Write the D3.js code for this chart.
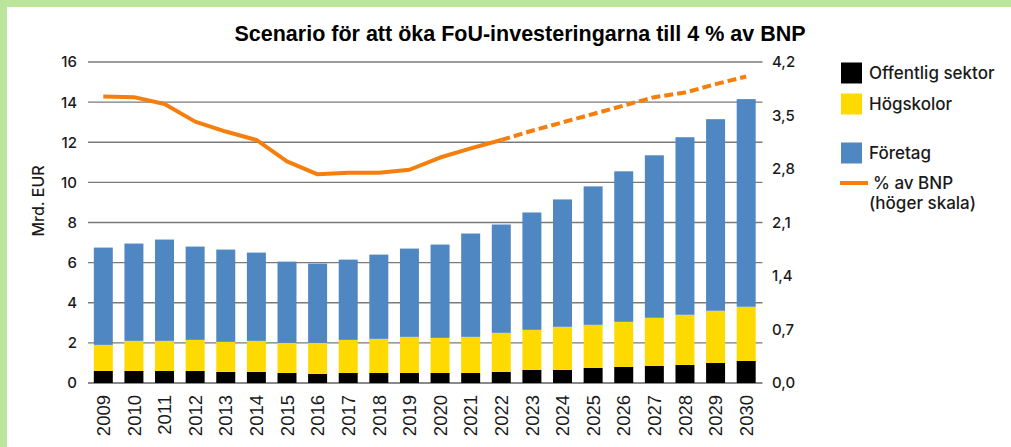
<!DOCTYPE html>
<html>
<head>
<meta charset="utf-8">
<script src="https://cdn.jsdelivr.net/npm/d3@7"></script>
<style>
  body { margin: 0; background: #fff; }
  text { font-family: Inter, "Noto Sans", sans-serif; font-weight: 500; fill: #1a1a1a; }
</style>
</head>
<body>
<svg id="chart" width="1011" height="447"></svg>
<script>
const WIDTH = 1011
const HEIGHT = 447

// values
const years = ['2009', '2010', '2011', '2012', '2013', '2014', '2015', '2016', '2017', '2018', '2019',
    '2020', '2021', '2022', '2023', '2024', '2025', '2026', '2027', '2028', '2029', '2030'];
const offentlig = [0.6, 0.6, 0.6, 0.6, 0.55, 0.55, 0.5, 0.45, 0.5, 0.5, 0.5,
    0.5, 0.5, 0.55, 0.65, 0.65, 0.75, 0.8, 0.85, 0.9, 1.0, 1.1];
const hogskolor = [1.3, 1.5, 1.5, 1.55, 1.5, 1.55, 1.5, 1.55, 1.65, 1.7, 1.8,
    1.75, 1.8, 1.95, 2.0, 2.15, 2.15, 2.25, 2.4, 2.5, 2.6, 2.7];
const foretag = [4.85, 4.85, 5.05, 4.65, 4.6, 4.4, 4.05, 3.95, 4.0, 4.2, 4.4,
    4.65, 5.15, 5.4, 5.85, 6.35, 6.9, 7.5, 8.1, 8.85, 9.55, 10.35];
const bnpShare = [3.75, 3.74, 3.65, 3.42, 3.29, 3.18, 2.90, 2.73, 2.75, 2.75, 2.79,
    2.95, 3.07, 3.18, 3.30, 3.41, 3.52, 3.63, 3.74, 3.80, 3.91, 4.01];
const leftTicks = [0, 2, 4, 6, 8, 10, 12, 14, 16];
const rightTicks = [0, 0.7, 1.4, 2.1, 2.8, 3.5, 4.2];
const lastActual = '2022';

const seriesKeys = ['Offentlig sektor', 'Högskolor', 'Företag'];
const colors = { 'Offentlig sektor': '#000000', 'Högskolor': '#FFDA00', 'Företag': '#4F87C2' };
const lineColor = '#F47F0C';

const svg = d3.select('#chart');

// green frame, top and left
svg.append('rect').attr('x', 0).attr('y', 0).attr('width', WIDTH).attr('height', 7).attr('fill', '#BBE59B');
svg.append('rect').attr('x', 0).attr('y', 0).attr('width', 7).attr('height', HEIGHT).attr('fill', '#BBE59B');

const padding = { left: 88, right: 761.5, top: 62, bottom: 383 };

const xScale = d3.scaleBand()
    .domain(years)
    .range([padding.left, padding.right])
    .paddingInner(0.38)
    .paddingOuter(0.19);

const yLeft = d3.scaleLinear().domain([0, 16]).range([padding.bottom, padding.top]);
const yRight = d3.scaleLinear().domain([0, 4.2]).range([padding.bottom, padding.top]);

// gridlines
svg.append('g')
    .selectAll('line')
    .data(leftTicks)
    .join('line')
    .attr('x1', padding.left)
    .attr('x2', padding.right + 1)
    .attr('y1', d => yLeft(d))
    .attr('y2', d => yLeft(d))
    .attr('stroke', d => d === 0 ? '#8a8a8a' : '#7a7a7a')
    .attr('stroke-width', d => d === 0 ? 2.2 : 1.4);

// left axis labels
svg.append('g')
    .selectAll('text')
    .data(leftTicks)
    .join('text')
    .attr('x', 77)
    .attr('y', d => yLeft(d))
    .attr('dy', '0.36em')
    .attr('text-anchor', 'end')
    .style('font-size', '15px')
    .text(d => d);

// right axis labels
svg.append('g')
    .selectAll('text')
    .data(rightTicks)
    .join('text')
    .attr('x', 772)
    .attr('y', d => yRight(d))
    .attr('dy', '0.36em')
    .style('font-size', '15px')
    .text(d => d3.format('.1f')(d).replace('.', ','));

// y axis title
svg.append('text')
    .attr('transform', 'translate(38, 201) rotate(-90)')
    .attr('text-anchor', 'middle')
    .attr('dy', '0.36em')
    .style('font-size', '16px')
    .text('Mrd. EUR');

// stacked bars
const rows = years.map((year, i) => ({
    year: year,
    'Offentlig sektor': offentlig[i],
    'Högskolor': hogskolor[i],
    'Företag': foretag[i]
}));
const stacked = d3.stack().keys(seriesKeys)(rows);

svg.append('g')
    .selectAll('g')
    .data(stacked)
    .join('g')
    .attr('fill', d => colors[d.key])
    .selectAll('rect')
    .data(d => d)
    .join('rect')
    .attr('x', d => xScale(d.data.year))
    .attr('width', xScale.bandwidth())
    .attr('y', d => yLeft(d[1]))
    .attr('height', d => yLeft(d[0]) - yLeft(d[1]));

// line, solid for history and dashed for the scenario
const points = years.map((year, i) => ({ year: year, value: bnpShare[i] }));
const cut = years.indexOf(lastActual);
const line = d3.line()
    .x(d => xScale(d.year) + xScale.bandwidth() / 2)
    .y(d => yRight(d.value));

svg.append('path')
    .attr('d', line(points.slice(0, cut + 1)))
    .attr('fill', 'none')
    .attr('stroke', lineColor)
    .attr('stroke-width', 4)
    .attr('stroke-linejoin', 'round');

svg.append('path')
    .attr('d', line(points.slice(cut)))
    .attr('fill', 'none')
    .attr('stroke', lineColor)
    .attr('stroke-width', 4)
    .attr('stroke-dasharray', '9,4');

// x labels
svg.append('g')
    .selectAll('text')
    .data(years)
    .join('text')
    .attr('transform', d => `translate(${xScale(d) + xScale.bandwidth() / 2}, 395) rotate(-90)`)
    .attr('text-anchor', 'end')
    .attr('dy', '0.36em')
    .style('font-family', '"Liberation Sans", Arial, sans-serif')
    .style('font-weight', 'normal')
    .style('font-size', '18.5px')
    .text(d => d);

// title
svg.append('text')
    .attr('x', 520)
    .attr('y', 41)
    .attr('text-anchor', 'middle')
    .style('font-family', '"Liberation Sans", Arial, sans-serif')
    .style('font-weight', 'bold')
    .style('font-size', '21.5px')
    .style('fill', '#000')
    .text('Scenario för att öka FoU-investeringarna till 4 % av BNP');

// legend
const legendItems = [
    { key: 'Offentlig sektor', y: 73 },
    { key: 'Högskolor', y: 104 },
    { key: 'Företag', y: 153 }
];
const legend = svg.append('g');
legend.selectAll('rect')
    .data(legendItems)
    .join('rect')
    .attr('x', 841)
    .attr('y', d => d.y - 10.5)
    .attr('width', 21)
    .attr('height', 21)
    .attr('fill', d => colors[d.key]);
legend.selectAll('text.item')
    .data(legendItems)
    .join('text')
    .attr('class', 'item')
    .attr('x', 869)
    .attr('y', d => d.y)
    .attr('dy', '0.36em')
    .style('font-size', '17px')
    .text(d => d.key);

legend.append('line')
    .attr('x1', 840).attr('x2', 868)
    .attr('y1', 183).attr('y2', 183)
    .attr('stroke', lineColor)
    .attr('stroke-width', 4);
legend.append('text')
    .attr('x', 873).attr('y', 183).attr('dy', '0.36em')
    .style('font-size', '17px')
    .text('% av BNP');
legend.append('text')
    .attr('x', 869).attr('y', 203).attr('dy', '0.36em')
    .style('font-size', '17px')
    .text('(höger skala)');
</script>
</body>
</html>
